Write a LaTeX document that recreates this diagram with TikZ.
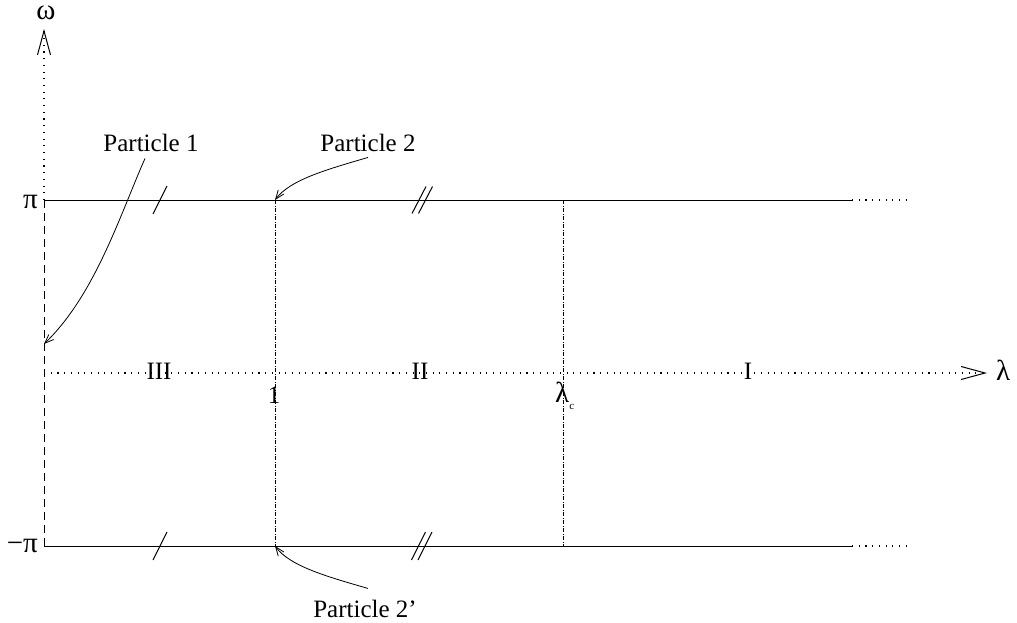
\documentclass[tikz,border=0pt]{standalone}
\usepackage{fontspec}
\setmainfont{Liberation Serif}
\usetikzlibrary{arrows.meta,calc}
\begin{document}
\begin{tikzpicture}[x=1pt,y=-1pt,
  lbl/.style={font=\fontsize{25}{30}\selectfont, inner sep=0pt, anchor=base},
  greek/.style={lbl, font=\fontsize{29}{34}\selectfont},
  solidline/.style={line width=0.9pt},
  dotline/.style={line width=1.1pt, dash pattern=on 1.1pt off 5.6pt},
  dashline/.style={line width=0.9pt, dash pattern=on 8pt off 5pt},
  dashdot/.style={line width=0.8pt, dash pattern=on 4pt off 1.5pt on 1pt off 1.5pt},
  axistip/.style={-{Straight Barb[length=24pt,width=13pt,line width=1pt]}},
  ptarrow/.style={line width=0.8pt, -{Straight Barb[length=9pt,width=7pt,line width=0.8pt]}},
  tickmark/.style={line width=1pt}]
\useasboundingbox (0,0) rectangle (1017,623);

% reference points
\coordinate (O)   at (44,373);
\coordinate (wtip) at (44,29);
\coordinate (ltip) at (987,373);
\coordinate (TL)  at (44,200);
\coordinate (BL)  at (44,546);
\coordinate (TE)  at (852,200);
\coordinate (TD)  at (906,200);
\coordinate (BE)  at (852,546);
\coordinate (BD)  at (906,546);
\coordinate (A1)  at (275,200);
\coordinate (A1b) at (275,546);
\coordinate (Ac)  at (563,200);
\coordinate (Acb) at (563,546);
\coordinate (P1end) at (44,344);

% axes
\draw[dotline, axistip] (TL) -- (wtip);
\draw[dashline] (TL) -- (BL);
\draw[dotline, axistip] (O) -- (ltip);

% the lines omega = pi and omega = -pi
\draw[solidline] (TL) -- (TE);
\draw[dotline] (TE) -- (TD);
\draw[solidline] (BL) -- (BE);
\draw[dotline] (BE) -- (BD);

% lambda = 1 and lambda = lambda_c
\draw[dashdot] (A1) -- (A1b);
\draw[dashdot] (Ac) -- (Acb);

% identification marks
\draw[tickmark] (160,200) ++(-7,14) -- ++(14,-28);
\draw[tickmark] (419,200) ++(-7,13.5) -- ++(14,-27);
\draw[tickmark] (425.5,200) ++(-7,13.5) -- ++(14,-27);
\draw[tickmark] (160,546) ++(-7,14) -- ++(14,-28);
\draw[tickmark] (418.5,546) ++(-7,14) -- ++(14,-28);
\draw[tickmark] (425,546) ++(-7,14) -- ++(14,-28);

% axis labels
\node[greek] (omega) at (46,20) {ω};
\node[greek, anchor=base east] (pi) at (38,208) {π};
\node[greek, anchor=base east] (mpi) at (38,552) {−π};
\node[greek, anchor=base west] (lam) at (996,380) {λ};

% region labels
\node[lbl] (r3) at (159,379) {III};
\node[lbl] (r2) at (420,379) {II};
\node[lbl] (r1) at (748,379) {I};
\node[lbl] (one) at (274,403) {1};
\node[greek, anchor=base west] (lamc) at (555,402) {λ\raisebox{-7pt}{\fontsize{11}{12}\selectfont c}};

% particles
\node[lbl] (p1) at (151,152) {Particle 1};
\node[lbl] (p2) at (368,151) {Particle 2};
\node[lbl] (p2p) at (365,617) {Particle 2’};

\draw[ptarrow] ($(p1.south)+(-6,6)$) .. controls (120,215) and (95,295) .. (P1end);
\draw[ptarrow] ($(p2.south)+(0,6)$) .. controls (325,170) and (290,180) .. (A1);
\draw[ptarrow] ($(p2p.north)+(3,-11)$) .. controls (325,576) and (290,566) .. (A1b);
\end{tikzpicture}
\end{document}
